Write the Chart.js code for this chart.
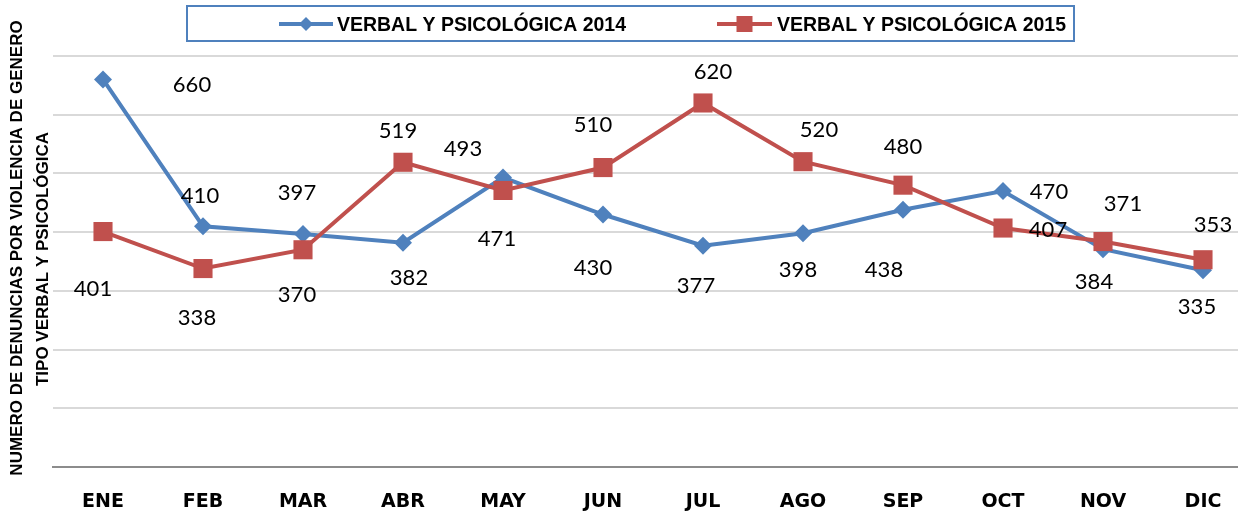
<!DOCTYPE html>
<html>
<head>
<meta charset="utf-8">
<script src="https://cdn.jsdelivr.net/npm/chart.js@4/dist/chart.umd.min.js"></script>
<style>
  html, body { margin: 0; padding: 0; background: #fff; overflow: hidden; }
  canvas { display: block; }
</style>
</head>
<body>
<canvas id="denunciasChart" width="1238" height="517"></canvas>
<script>
// data
const months = ['ENE', 'FEB', 'MAR', 'ABR', 'MAY', 'JUN', 'JUL', 'AGO', 'SEP', 'OCT', 'NOV', 'DIC'];
const verbal2014 = [660, 410, 397, 382, 493, 430, 377, 398, 438, 470, 371, 335];
const verbal2015 = [401, 338, 370, 519, 471, 510, 620, 520, 480, 407, 384, 353];
const yTicks = [0, 100, 200, 300, 400, 500, 600, 700];
const yTitle = ['NUMERO DE DENUNCIAS POR VIOLENCIA DE GENERO', 'TIPO VERBAL Y PSICOLÓGICA'];

// where each value label sits relative to its point (px)
const offsets2014 = [[89, 5], [-3, -30], [-6, -41], [6, 35], [-40, -29], [-10, 53],
                     [-7, 40], [-5, 37], [-19, 60], [46, 1], [20, -45], [-6, 37]];
const offsets2015 = [[-10, 57], [-6, 49], [-6, 45], [-5, -31], [-6, 48], [-10, -43],
                     [10, -31], [16, -32], [0, -38], [45, 2], [-9, 40], [10, -35]];

const BLUE = '#4F81BD';
const RED = '#C0504D';

// month index -> point
const toPoints = arr => arr.map((v, i) => ({ x: i, y: v }));

// value labels next to the points
const pointLabels = {
  id: 'pointLabels',
  afterDatasetsDraw(chart) {
    const ctx = chart.ctx;
    ctx.save();
    ctx.font = '22px Lato';
    ctx.fillStyle = '#000';
    ctx.textAlign = 'center';
    ctx.textBaseline = 'middle';
    chart.data.datasets.forEach((ds, i) => {
      chart.getDatasetMeta(i).data.forEach((pt, j) => {
        const off = ds.labelOffsets[j];
        ctx.fillText(ds.data[j].y, pt.x + off[0], pt.y + off[1]);
      });
    });
    ctx.restore();
  }
};

// boxed legend at the top + rotated y title
const decorations = {
  id: 'decorations',
  afterDraw(chart) {
    const ctx = chart.ctx;
    const ds = chart.data.datasets;
    ctx.save();
    ctx.strokeStyle = BLUE;
    ctx.lineWidth = 2;
    ctx.strokeRect(187, 6, 887, 35);

    const items = [
      { x1: 279, x2: 333, tx: 337, d: ds[0] },
      { x1: 717, x2: 772, tx: 777, d: ds[1] }
    ];
    const y = 24;
    items.forEach(it => {
      ctx.strokeStyle = it.d.borderColor;
      ctx.lineWidth = 4;
      ctx.beginPath();
      ctx.moveTo(it.x1, y);
      ctx.lineTo(it.x2, y);
      ctx.stroke();
      ctx.fillStyle = it.d.borderColor;
      const cx = (it.x1 + it.x2) / 2;
      ctx.beginPath();
      if (it.d.pointStyle === 'rectRot') {
        ctx.moveTo(cx, y - 7); ctx.lineTo(cx + 7, y); ctx.lineTo(cx, y + 7); ctx.lineTo(cx - 7, y);
        ctx.closePath();
      } else {
        ctx.rect(cx - 8, y - 8, 16, 16);
      }
      ctx.fill();
      ctx.fillStyle = '#000';
      ctx.font = 'bold 21px "Liberation Sans"';
      ctx.textBaseline = 'middle';
      ctx.textAlign = 'left';
      ctx.fillText(it.d.label, it.tx, y + 1, 289);
    });

    // y axis title, two lines
    ctx.font = 'bold 17px "Liberation Sans"';
    ctx.textAlign = 'center';
    ctx.textBaseline = 'middle';
    ctx.fillStyle = '#000';
    [[17, 248], [43, 259]].forEach((p, i) => {
      ctx.save();
      ctx.translate(p[0], p[1]);
      ctx.rotate(-Math.PI / 2);
      ctx.fillText(yTitle[i], 0, 0);
      ctx.restore();
    });
    ctx.restore();
  }
};

const ctx = document.getElementById('denunciasChart').getContext('2d');

new Chart(ctx, {
  type: 'line',
  data: {
    datasets: [
      {
        label: 'VERBAL Y PSICOLÓGICA 2014',
        data: toPoints(verbal2014),
        labelOffsets: offsets2014,
        borderColor: BLUE,
        backgroundColor: BLUE,
        borderWidth: 4,
        pointStyle: 'rectRot',
        pointRadius: 9,
        pointBorderWidth: 0,
        tension: 0,
        order: 1
      },
      {
        label: 'VERBAL Y PSICOLÓGICA 2015',
        data: toPoints(verbal2015),
        labelOffsets: offsets2015,
        borderColor: RED,
        backgroundColor: RED,
        borderWidth: 4,
        pointStyle: 'rect',
        pointRadius: 13.5,
        pointBorderWidth: 0,
        tension: 0,
        order: 0
      }
    ]
  },
  options: {
    responsive: false,
    animation: false,
    layout: { autoPadding: false, padding: { top: 56, right: 0, bottom: 0, left: 0 } },
    plugins: {
      legend: { display: false },
      tooltip: { enabled: false }
    },
    scales: {
      x: {
        type: 'linear',
        min: -0.5,
        max: 11.35, // the last category is cut by the right edge
        afterBuildTicks: s => { s.ticks = months.map((m, i) => ({ value: i })); },
        grid: { display: false, drawTicks: false },
        border: { display: true, color: '#8c8c8c', width: 2 },
        ticks: {
          padding: 24,
          autoSkip: false,
          maxRotation: 0,
          color: '#000',
          font: { family: 'DejaVu Sans', weight: 'bold', size: 19 },
          callback: v => months[v]
        },
        afterFit: s => { s.height = 50; s.paddingLeft = 0; s.paddingRight = 0; }
      },
      y: {
        min: yTicks[0],
        max: yTicks[yTicks.length - 1],
        afterBuildTicks: s => { s.ticks = yTicks.map(v => ({ value: v })); },
        ticks: { display: false },
        grid: {
          drawTicks: false,
          lineWidth: 2,
          color: c => c.tick && c.tick.value === 0 ? '#8c8c8c' : '#d9d9d9'
        },
        border: { display: false },
        afterFit: s => { s.width = 53; }
      }
    }
  },
  plugins: [pointLabels, decorations]
});
</script>
</body>
</html>
